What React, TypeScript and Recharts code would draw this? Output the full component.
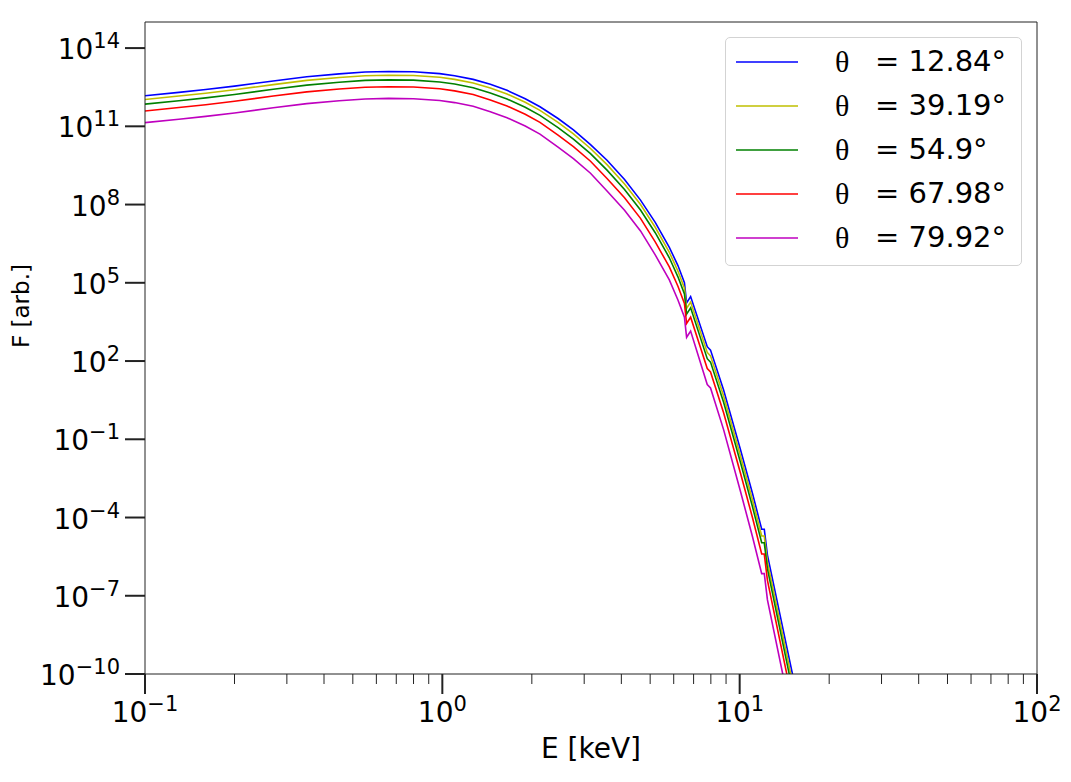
import { CartesianGrid, Line, LineChart, ReferenceLine, XAxis, YAxis } from 'recharts';

// photon energy grid (keV), shared by all five spectra
const energy = [0.1, 0.13, 0.16, 0.2, 0.27, 0.35, 0.45, 0.55, 0.66, 0.8, 0.98, 1.1, 1.27, 1.45, 1.65, 1.9, 2.13, 2.45, 2.76, 3.15, 3.58, 4.1, 4.64, 5.2, 5.8, 6.2, 6.52, 6.63, 6.84, 7.78, 7.98, 8.83, 10.07, 11.04, 11.86, 12.1, 12.4, 15.03, 16];

// log10 of the flux
const logBlue = [12.17, 12.30, 12.41, 12.54, 12.74, 12.90, 13.01, 13.08, 13.10, 13.09, 13.02, 12.94, 12.80, 12.61, 12.38, 12.06, 11.75, 11.30, 10.86, 10.30, 9.70, 8.96, 8.17, 7.32, 6.36, 5.66, 5.00, 4.23, 4.47, 2.55, 2.42, 0.89, -1.41, -3.07, -4.45, -4.45, -5.44, -9.97, -11.7];
const logYellow = [12.03, 12.16, 12.27, 12.40, 12.60, 12.76, 12.87, 12.94, 12.96, 12.95, 12.88, 12.80, 12.66, 12.47, 12.24, 11.92, 11.61, 11.15, 10.71, 10.15, 9.53, 8.79, 8.00, 7.13, 6.17, 5.45, 4.79, 4.02, 4.26, 2.33, 2.20, 0.66, -1.65, -3.32, -4.71, -4.71, -5.71, -10.27, -12.0];
const logGreen = [11.85, 11.98, 12.09, 12.22, 12.42, 12.58, 12.69, 12.76, 12.78, 12.77, 12.70, 12.62, 12.48, 12.28, 12.05, 11.73, 11.42, 10.95, 10.51, 9.95, 9.32, 8.58, 7.79, 6.92, 5.96, 5.23, 4.57, 3.80, 4.04, 2.09, 1.96, 0.42, -1.90, -3.58, -4.97, -4.97, -5.97, -10.57, -12.3];
const logRed = [11.59, 11.72, 11.83, 11.96, 12.16, 12.32, 12.43, 12.50, 12.52, 12.51, 12.44, 12.36, 12.22, 12.01, 11.78, 11.46, 11.15, 10.66, 10.22, 9.66, 9.00, 8.26, 7.47, 6.57, 5.61, 4.87, 4.21, 3.44, 3.68, 1.71, 1.58, 0.02, -2.31, -4.00, -5.40, -5.40, -6.41, -11.02, -12.8];
const logMagenta = [11.14, 11.27, 11.38, 11.51, 11.71, 11.87, 11.98, 12.05, 12.07, 12.06, 11.99, 11.91, 11.77, 11.56, 11.33, 11.01, 10.70, 10.20, 9.76, 9.20, 8.52, 7.78, 6.99, 6.07, 5.11, 4.34, 3.68, 2.91, 3.15, 1.10, 0.97, -0.63, -3.01, -4.73, -6.15, -6.15, -7.16, -11.77, -13.5];

const angles = ['12.84', '39.19', '54.9', '67.98', '79.92'];
const seriesKeys = ['blue', 'yellow', 'green', 'red', 'magenta'];
const seriesColors = ['#0000ff', '#bfbf00', '#008000', '#ff0000', '#bf00bf'];

const xMajor = [0.1, 1, 10, 100];
const xMajorExp = ['−1', '0', '1', '2'];
const xMinor = [0.2, 0.3, 0.4, 0.5, 0.6, 0.7, 0.8, 0.9, 2, 3, 4, 5, 6, 7, 8, 9, 20, 30, 40, 50, 60, 70, 80, 90];
const yMajor = [1e-10, 1e-7, 1e-4, 1e-1, 1e2, 1e5, 1e8, 1e11, 1e14];
const yMajorExp = ['−10', '−7', '−4', '−1', '2', '5', '8', '11', '14'];

const data = energy.map((e, i) => ({
  e,
  blue: 10 ** logBlue[i],
  yellow: 10 ** logYellow[i],
  green: 10 ** logGreen[i],
  red: 10 ** logRed[i],
  magenta: 10 ** logMagenta[i],
}));

const FONT = '"DejaVu Sans", sans-serif';
const AX = '#222';

function XTick({ x, y, payload }: any) {
  const idx = xMajor.indexOf(payload.value);
  if (idx < 0) return <line x1={x} x2={x} y1={y} y2={y + 10} stroke={AX} strokeWidth={1} />;
  return (
    <g>
      <line x1={x} x2={x} y1={y} y2={y + 20} stroke={AX} strokeWidth={2} />
      <text x={x} y={y + 48} textAnchor="middle" fontFamily={FONT} fontSize={28} fill="#000">
        <tspan>10</tspan><tspan dy={-11} fontSize={21}>{xMajorExp[idx]}</tspan>
      </text>
    </g>
  );
}

function YTick({ x, y, payload }: any) {
  const idx = yMajor.findIndex(v => Math.abs(Math.log10(v) - Math.log10(payload.value)) < 1e-6);
  return (
    <g>
      <line x1={x - 20} x2={x} y1={y} y2={y} stroke={AX} strokeWidth={2} />
      <text x={x - 25} y={y + 11} textAnchor="end" fontFamily={FONT} fontSize={28} fill="#000">
        <tspan>10</tspan><tspan dy={-11} fontSize={21}>{yMajorExp[idx]}</tspan>
      </text>
    </g>
  );
}

function ThetaLegend() {
  return (
    <div style={{ position: 'absolute', left: 725, top: 37, width: 295, height: 227, border: '1px solid #d3d3d3', borderRadius: 5, background: 'rgba(255,255,255,0.85)' }}>
      {angles.map((a, i) => (
        <div key={a} style={{ position: 'absolute', left: 0, top: 10 + i * 44, height: 44, width: '100%' }}>
          <svg width={70} height={44} style={{ position: 'absolute', left: 10, top: 0 }}>
            <line x1={0} x2={62} y1={14} y2={14} stroke={seriesColors[i]} strokeWidth={1.6} />
          </svg>
          <span style={{ position: 'absolute', left: 109, top: -4, fontFamily: '"Liberation Serif", serif', fontSize: 30, lineHeight: '36px' }}>θ</span>
          <span style={{ position: 'absolute', left: 149, top: -4, fontFamily: FONT, fontSize: 29, lineHeight: '35px', whiteSpace: 'nowrap' }}>= {a}°</span>
        </div>
      ))}
    </div>
  );
}

export default function App() {
  return (
    <div style={{ position: 'relative', width: 1071, height: 782, background: '#fff' }}>
      <style>{'body{margin:0}'}</style>
      <LineChart width={1071} height={782} data={data} margin={{ top: 22, right: 34, left: 0, bottom: 0 }}>
        <CartesianGrid stroke="none" />
        <XAxis dataKey="e" type="number" scale="log" domain={[0.1, 100]} allowDataOverflow
          ticks={[...xMajor, ...xMinor]} interval={0} height={108} tickSize={0} tickMargin={0}
          tickLine={false} axisLine={{ stroke: AX, strokeWidth: 1 }} tick={<XTick />}
          label={{ value: 'E [keV]', position: 'insideBottom', offset: 24, fontSize: 28, fontFamily: FONT, fill: '#000' }} />
        <YAxis type="number" scale="log" domain={[1e-10, 1e15]} allowDataOverflow
          ticks={yMajor} interval={0} width={145} tickSize={0} tickMargin={0}
          tickLine={false} axisLine={{ stroke: AX, strokeWidth: 1 }} tick={<YTick />}
          label={{ value: 'F [arb.]', angle: -90, position: 'insideLeft', offset: 21, fontSize: 23, fontFamily: FONT, fill: '#000' }} />
        <ReferenceLine y={1e15} stroke={AX} strokeWidth={1} />
        <ReferenceLine x={100} stroke={AX} strokeWidth={1} />
        {seriesKeys.map((k, i) => (
          <Line key={k} dataKey={k} name={`θ = ${angles[i]}°`} stroke={seriesColors[i]} strokeWidth={1.6}
            type="linear" dot={false} activeDot={false} isAnimationActive={false} />
        ))}
      </LineChart>
      <ThetaLegend />
    </div>
  );
}
